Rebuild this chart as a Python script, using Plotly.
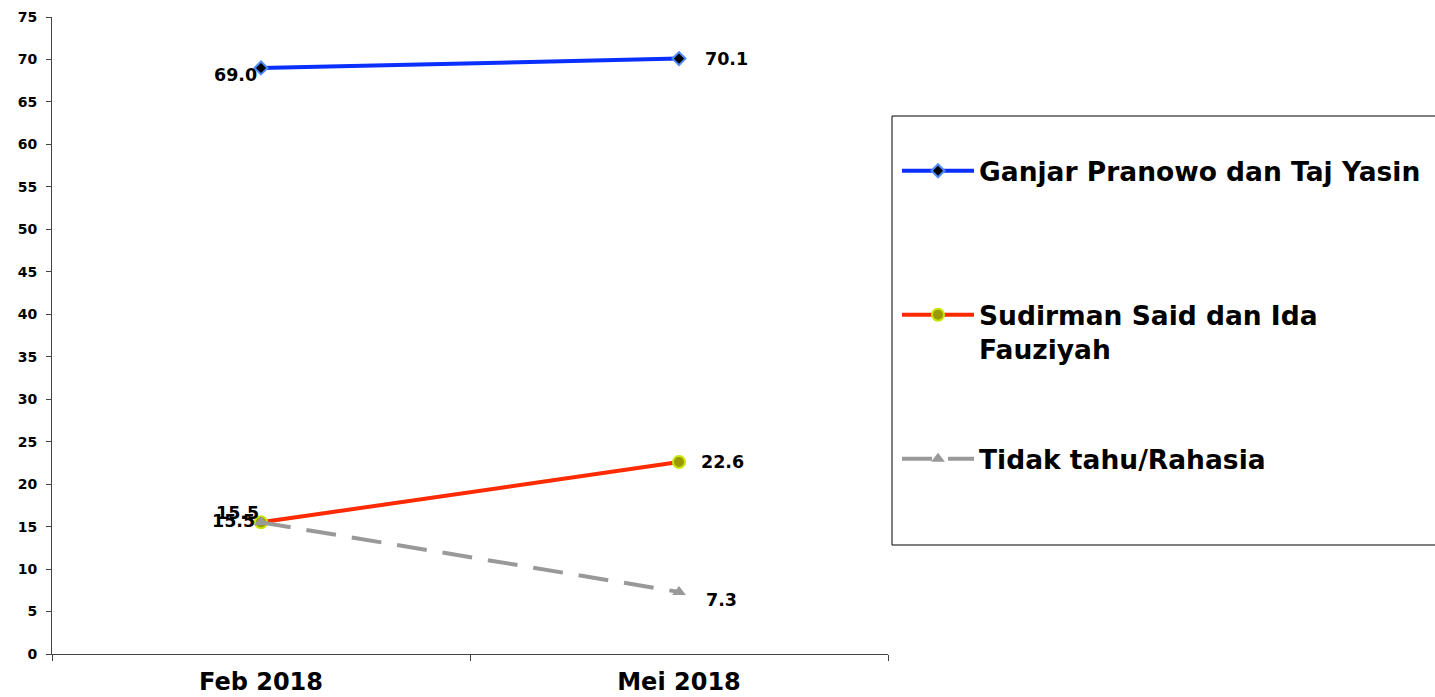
import plotly.graph_objects as go

categories = ["Feb 2018", "Mei 2018"]
ganjar = [69.0, 70.1]
sudirman = [15.5, 22.6]
tidak = [15.5, 7.3]
names = ["Ganjar Pranowo dan Taj Yasin", "Sudirman Said dan Ida<br>Fauziyah", "Tidak tahu/Rahasia"]
y_ticks = list(range(0, 80, 5))

W, H = 1435, 697
L, T = 52, 17
PW, PH = 836, 637
R, B = W - L - PW, H - T - PH

def px_x(px):
    return (px - L) / PW

def px_y(py):
    return (T + PH - py) / PH

FAM = "DejaVu Sans, Verdana"
lbl_font = dict(family=FAM, size=17.5, color="black", weight="bold")

fig = go.Figure()
fig.add_trace(go.Scatter(
    x=categories, y=ganjar, name=names[0], mode="lines+markers",
    line=dict(color="#0A2FFF", width=4),
    marker=dict(symbol="diamond", size=10, color="black", line=dict(color="#4F8BFF", width=2)),
    legend="legend"))
fig.add_trace(go.Scatter(
    x=categories, y=sudirman, name=names[1], mode="lines+markers",
    line=dict(color="#FF2A00", width=4),
    marker=dict(symbol="circle", size=12, color="#9A9A00", line=dict(color="#C8E600", width=2)),
    legend="legend2"))
fig.add_trace(go.Scatter(
    x=categories, y=tidak, name=names[2], mode="lines+markers",
    line=dict(color="#999999", width=4, dash="30px,16px"),
    marker=dict(symbol="triangle-up", size=12, color="#999999"),
    legend="legend3"))

# data labels
label_specs = [
    (ganjar, [("right", -2, -7), ("left", 24, 0)]),
    (sudirman, [("right", 0, 9), ("left", 20, 0)]),
    (tidak, [("right", -4, 1), ("left", 25, -8)]),
]
for vals, specs in label_specs:
    for cat, v, (anch, xs, ys) in zip(categories, vals, specs):
        fig.add_annotation(x=cat, y=v, text=f"{v:.1f}", showarrow=False,
                           xanchor=anch, yanchor="middle", xshift=xs, yshift=ys, font=lbl_font)

# legend box (top, left, bottom edges; right edge runs off the page)
bx0, bx1, by0, by1 = px_x(892), px_x(1700), px_y(545), px_y(116)
for x0, y0, x1, y1 in [(bx0, by1, bx1, by1), (bx0, by0, bx1, by0), (bx0, by0, bx0, by1)]:
    fig.add_shape(type="line", xref="paper", yref="paper", x0=x0, y0=y0, x1=x1, y1=y1,
                  line=dict(color="black", width=1))

leg_common = dict(font=dict(family=FAM, size=26.5, color="black", weight="bold"),
                  bgcolor="rgba(0,0,0,0)", borderwidth=0, itemwidth=72, valign="top",
                  xanchor="left", yanchor="top", x=px_x(897))
fig.update_layout(
    legend=dict(**leg_common, y=px_y(147)),
    legend2=dict(**leg_common, y=px_y(291)),
    legend3=dict(**leg_common, y=px_y(435)),
)

fig.update_layout(
    width=W, height=H,
    margin=dict(l=L, r=R, t=T, b=B, pad=0, autoexpand=False),
    plot_bgcolor="white", paper_bgcolor="white",
    showlegend=True,
    xaxis=dict(type="category", range=[-0.5, 1.5], showgrid=False, showline=True, automargin=False,
               linecolor="#444", linewidth=1, ticks="outside", tickson="boundaries",
               ticklen=6, tickcolor="#444", ticklabelstandoff=6,
               tickfont=dict(family=FAM, size=24, color="black", weight="bold"), zeroline=False),
    yaxis=dict(range=[0, 75], tickvals=y_ticks, showgrid=False, showline=True, automargin=False,
               linecolor="#444", linewidth=1, ticks="outside", ticklen=5, tickcolor="#444",
               ticklabelstandoff=6,
               tickfont=dict(family=FAM, size=14, color="black", weight="bold"), zeroline=False),
)

fig.write_html("out.html", config={"displayModeBar": False},
               post_script="document.body.style.margin='0';document.body.style.overflow='hidden';")
